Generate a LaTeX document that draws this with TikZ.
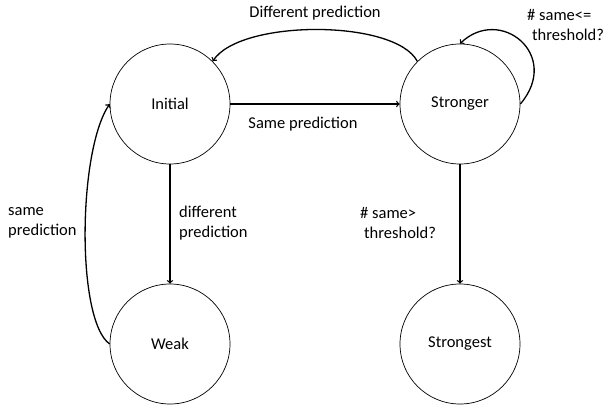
\documentclass[tikz,border=0pt]{standalone}
\usepackage{fontspec}
\setmainfont{Carlito}
\begin{document}
\begin{tikzpicture}[x = 1pt,y=-1pt,
	font = \fontsize{16.5}{20}\selectfont,
	state/.style = {draw,circle,line width = 0.7pt,minimum size = 120pt,inner sep = 0pt},
	trans/.style = {->,line width = 1.3pt},
	lab/.style = {align = left,inner sep = 0pt}]
	\useasboundingbox (0,0) rectangle (605,405);
	\node[state] (initial) at (170,104) {Initial};
	\node[state] (stronger) at (460,104) {Stronger};
	\node[state] (weak) at (170,344) {Weak};
	\node[state] (strongest) at (460,344) {Strongest};
	\draw[trans] (initial) -- (stronger);
	\draw[trans] (initial) -- (weak);
	\draw[trans] (stronger) -- (strongest);
	\draw[trans] (stronger.135) .. controls (395,19) and (240,19) .. (initial.45);
	\draw[trans] (stronger.east) .. controls (562,55) and (500,5) .. (stronger.north);
	\draw[trans] (weak.west) .. controls (76,320) and (78,150) .. (initial.west);
	\node[lab,anchor = center] (l1) at (315,13) {Different prediction};
	\node[lab,anchor = center] (l2) at (303,124) {Same prediction};
	\node[lab,anchor = west] (l3) at (527,25) {\# same<=\\\hspace*{5pt}threshold?};
	\node[lab,anchor = west] (l4) at (179,223) {different\\prediction};
	\node[lab,anchor = west] (l5) at (8,223) {same\\prediction};
	\node[lab,anchor = west] (l6) at (360,223) {\# same>\\\hspace*{4pt}threshold?};
\end{tikzpicture}
\end{document}
